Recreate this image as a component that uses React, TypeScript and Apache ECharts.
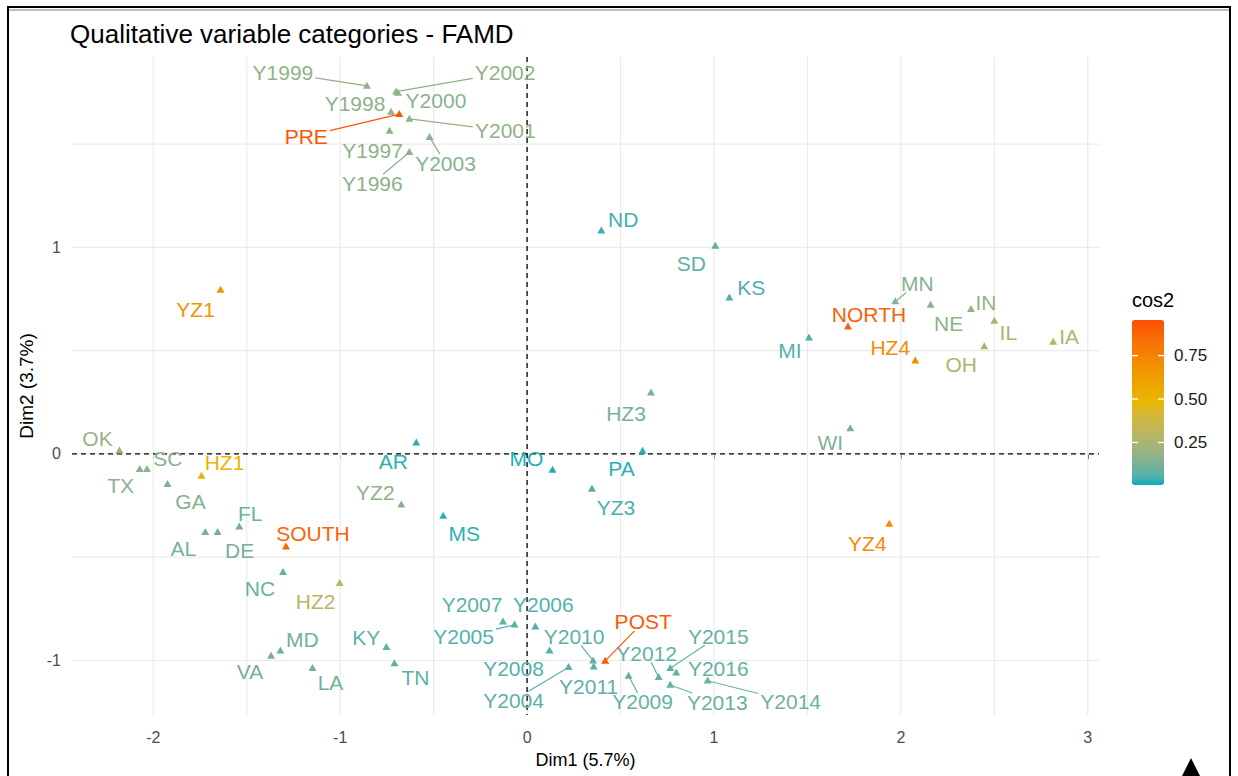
import React, { useEffect, useRef } from "react";
import * as echarts from "echarts";

// ---------------- data ----------------
const categories = [
  "Y1996", "Y1997", "Y1998", "Y1999", "Y2000", "Y2001", "Y2002", "Y2003", "PRE",
  "Y2004", "Y2005", "Y2006", "Y2007", "Y2008", "Y2009", "Y2010", "Y2011", "Y2012",
  "Y2013", "Y2014", "Y2015", "Y2016", "POST",
  "NORTH", "SOUTH",
  "HZ1", "HZ2", "HZ3", "HZ4", "YZ1", "YZ2", "YZ3", "YZ4",
  "AL", "AR", "DE", "FL", "GA", "IA", "IL", "IN", "KS", "KY", "LA", "MD", "MI", "MN",
  "MO", "MS", "NC", "ND", "NE", "OH", "OK", "PA", "SC", "SD", "TN", "TX", "VA", "WI",
];

const dim1 = [
  -0.630, -0.736, -0.728, -0.857, -0.691, -0.630, -0.701, -0.522, -0.684,
  0.222, -0.067, 0.044, -0.129, 0.120, 0.543, 0.353, 0.356, 0.704,
  0.766, 0.966, 0.766, 0.798, 0.418,
  1.717, -1.290,
  -1.742, -1.003, 0.663, 2.077, -1.640, -0.673, 0.347, 1.938,
  -1.722, -0.593, -1.656, -1.540, -1.924, 2.815, 2.500, 2.375, 1.082, -0.753, -1.148, -1.320, 1.508, 1.970,
  0.136, -0.449, -1.306, 0.397, 2.159, 2.446, -2.181, 0.618, -2.034, 1.007, -0.710, -2.073, -1.370, 1.729,
];

const dim2 = [
  1.461, 1.564, 1.656, 1.782, 1.748, 1.622, 1.754, 1.534, 1.645,
  -1.033, -0.827, -0.836, -0.812, -0.953, -1.075, -1.001, -1.030, -1.081,
  -1.119, -1.098, -1.038, -1.059, -1.002,
  0.616, -0.449,
  -0.107, -0.626, 0.297, 0.452, 0.794, -0.246, -0.169, -0.339,
  -0.379, 0.055, -0.379, -0.352, -0.147, 0.542, 0.644, 0.701, 0.757, -0.936, -1.038, -0.953, 0.563, 0.738,
  -0.077, -0.300, -0.573, 1.081, 0.722, 0.520, 0.016, 0.015, -0.074, 1.007, -1.014, -0.074, -0.978, 0.123,
];

const cos2 = [
  0.16, 0.17, 0.17, 0.18, 0.16, 0.18, 0.17, 0.15, 0.93,
  0.07, 0.06, 0.06, 0.07, 0.06, 0.08, 0.07, 0.07, 0.08,
  0.09, 0.10, 0.08, 0.08, 0.92,
  0.90, 0.88,
  0.50, 0.30, 0.12, 0.71, 0.67, 0.17, 0.05, 0.71,
  0.11, 0.03, 0.11, 0.10, 0.14, 0.28, 0.24, 0.19, 0.05, 0.07, 0.10, 0.10, 0.06, 0.15,
  0.02, 0.03, 0.09, 0.04, 0.17, 0.26, 0.19, 0.03, 0.16, 0.07, 0.07, 0.16, 0.11, 0.13,
];

const xTickValues = [-2, -1, 0, 1, 2, 3];
const yTickValues = [-1, 0, 1];
const xGridValues = [-2, -1.5, -1, -0.5, 0, 0.5, 1, 1.5, 2, 2.5, 3];
const yGridValues = [-1, -0.5, 0, 0.5, 1, 1.5];
const zeroLines = [[0, 0]];
const xLimits = [-2.435, 3.06];
const yLimits = [-1.264, 1.922];
const cos2Limits = [0.005, 0.955];
const legendTicks = [0.25, 0.5, 0.75];
const gradientColors = ["#00AFBB", "#E7B800", "#FC4E07"];

// ---------------- label layout (pixel offsets, like ggrepel) ----------------
const labelOffsets: Record<string, [number, number]> = {
  Y1999: [-84, -13], Y2002: [109, -19], Y2000: [38, 8], Y1998: [-36, -8], PRE: [-93, 22],
  Y2001: [96, 12], Y1997: [-17, 20], Y2003: [16, 26], Y1996: [-37, 31],
  MN: [22, -18], NE: [18, 19], IN: [15, -7], IL: [14, 12], IA: [16, -6], OH: [-23, 18],
  NORTH: [21, -12], HZ4: [-25, -13], MI: [-19, 13], WI: [-20, 14],
  ND: [22, -11], SD: [-24, 18], KS: [22, -10], HZ3: [-25, 21], PA: [-21, 18],
  MO: [-26, -11], YZ3: [24, 19], AR: [-23, 19], YZ2: [-26, -12], MS: [21, 18],
  YZ1: [-25, 20], YZ4: [-22, 20],
  OK: [-22, -12], TX: [-19, 16], SC: [21, -11], GA: [23, 17], HZ1: [23, -14],
  FL: [11, -13], AL: [-22, 16], DE: [22, 18], SOUTH: [27, -13], NC: [-23, 16],
  HZ2: [-24, 18], MD: [22, -11], VA: [-21, 16], LA: [18, 14], KY: [-20, -10], TN: [21, 14],
  Y2007: [-31, -17], Y2005: [-51, 12], Y2006: [8, -22], Y2008: [-36, 18], Y2010: [-19, -24],
  Y2011: [-5, 20], Y2004: [-55, 33], POST: [38, -39], Y2012: [-12, -24], Y2015: [48, -32],
  Y2016: [42, -4], Y2009: [14, 26], Y2013: [47, 17], Y2014: [83, 21],
};

const withSegment = new Set([
  "Y1999", "Y2002", "PRE", "Y2001", "Y2003", "Y1996", "MN", "Y2005", "Y2010",
  "Y2004", "POST", "Y2012", "Y2015", "Y2009", "Y2013", "Y2014",
]);

const FONT = '"Liberation Sans", Arial, sans-serif';
const LABEL_SIZE = 21;

// ---------------- colour helpers (Lab interpolation like scales::gradient_n_pal) ----------------
function hexToRgb(h: string): number[] {
  const s = h.replace("#", "");
  return [0, 2, 4].map((i) => parseInt(s.slice(i, i + 2), 16));
}
function toLin(c: number) {
  c /= 255;
  return c <= 0.04045 ? c / 12.92 : Math.pow((c + 0.055) / 1.055, 2.4);
}
function fromLin(c: number) {
  const v = c <= 0.0031308 ? 12.92 * c : 1.055 * Math.pow(c, 1 / 2.4) - 0.055;
  return Math.round(Math.max(0, Math.min(1, v)) * 255);
}
const Xn = 0.95047, Yn = 1, Zn = 1.08883;
const fLab = (t: number) => (t > 0.008856 ? Math.cbrt(t) : 7.787 * t + 16 / 116);
const fInv = (t: number) => (t * t * t > 0.008856 ? t * t * t : (t - 16 / 116) / 7.787);
function rgbToLab(rgb: number[]): number[] {
  const [r, g, b] = rgb.map(toLin);
  const X = 0.4124 * r + 0.3576 * g + 0.1805 * b;
  const Y = 0.2126 * r + 0.7152 * g + 0.0722 * b;
  const Z = 0.0193 * r + 0.1192 * g + 0.9505 * b;
  return [116 * fLab(Y / Yn) - 16, 500 * (fLab(X / Xn) - fLab(Y / Yn)), 200 * (fLab(Y / Yn) - fLab(Z / Zn))];
}
function labToHex(lab: number[]): string {
  const fy = (lab[0] + 16) / 116;
  const fx = fy + lab[1] / 500;
  const fz = fy - lab[2] / 200;
  const X = Xn * fInv(fx), Y = Yn * fInv(fy), Z = Zn * fInv(fz);
  const r = 3.2406 * X - 1.5372 * Y - 0.4986 * Z;
  const g = -0.9689 * X + 1.8758 * Y + 0.0415 * Z;
  const b = 0.0557 * X - 0.204 * Y + 1.057 * Z;
  return "#" + [r, g, b].map((c) => fromLin(c).toString(16).padStart(2, "0")).join("");
}
function gradientStops(colors: string[], n: number): string[] {
  const labs = colors.map((c) => rgbToLab(hexToRgb(c)));
  const out: string[] = [];
  for (let i = 0; i < n; i++) {
    const s = (i / (n - 1)) * (labs.length - 1);
    const seg = Math.min(Math.floor(s), labs.length - 2);
    const t = s - seg;
    const a = labs[seg], b = labs[seg + 1];
    out.push(labToHex([0, 1, 2].map((k) => a[k] + (b[k] - a[k]) * t)));
  }
  return out;
}

let measureCtx: CanvasRenderingContext2D | null = null;
function textWidth(s: string, size: number) {
  if (!measureCtx) {
    const c = document.createElement("canvas");
    measureCtx = c.getContext("2d");
  }
  if (!measureCtx) return s.length * size * 0.55;
  measureCtx.font = `${size}px ${FONT}`;
  return measureCtx.measureText(s).width;
}

// ---------------- component ----------------
export default function App() {
  const ref = useRef<HTMLDivElement>(null);

  useEffect(() => {
    if (!ref.current) return;
    const chart = echarts.init(ref.current, undefined, { renderer: "svg" });

    const barLeft = 1132, barTop = 320, barW = 32, barH = 165;
    const legendY = (v: number) => barTop + ((cos2Limits[1] - v) / (cos2Limits[1] - cos2Limits[0])) * barH;

    const pointRender = (params: any, api: any) => {
      const i = params.dataIndex;
      const p = api.coord([api.value(0), api.value(1)]);
      const color = api.visual("color");
      const name = categories[i];
      const off = labelOffsets[name] || [0, -18];
      const lx = p[0] + off[0];
      const ly = p[1] + off[1];
      const children: any[] = [
        {
          type: "polygon",
          shape: { points: [[p[0], p[1] - 4.2], [p[0] - 4, p[1] + 2.8], [p[0] + 4, p[1] + 2.8]] },
          style: { fill: color },
        },
      ];
      if (withSegment.has(name)) {
        const hw = textWidth(name, LABEL_SIZE) / 2 + 2;
        const hh = 9;
        const dx = lx - p[0], dy = ly - p[1];
        const s = Math.min(dx !== 0 ? hw / Math.abs(dx) : Infinity, dy !== 0 ? hh / Math.abs(dy) : Infinity);
        if (s < 1) {
          children.push({
            type: "line",
            shape: { x1: p[0], y1: p[1], x2: lx - s * dx, y2: ly - s * dy },
            style: { stroke: color, lineWidth: 1.2 },
          });
        }
      }
      children.push({
        type: "text",
        x: lx,
        y: ly,
        style: {
          text: name, fill: color, font: `${LABEL_SIZE}px ${FONT}`,
          align: "center", verticalAlign: "middle", textAlign: "center", textVerticalAlign: "middle",
        },
      });
      return { type: "group", children };
    };

    const graphic: any[] = [
      { type: "rect", shape: { x: 8, y: 7, width: 1222, height: 800 }, style: { fill: "none", stroke: "#000", lineWidth: 2 }, silent: true },
      { type: "line", shape: { x1: 9, y1: 10, x2: 1229, y2: 10 }, style: { stroke: "#bdbdbd", lineWidth: 2 }, silent: true },
      { type: "polygon", shape: { points: [[1182, 776], [1191, 758], [1200, 776]] }, style: { fill: "#000" }, silent: true },
      {
        type: "text", x: barLeft, y: 300,
        style: { text: "cos2", fill: "#000", font: `20px ${FONT}`, align: "left", verticalAlign: "middle", textAlign: "left", textVerticalAlign: "middle" },
      },
    ];
    legendTicks.forEach((v) => {
      const y = legendY(v);
      graphic.push(
        { type: "line", shape: { x1: barLeft, y1: y, x2: barLeft + 6, y2: y }, style: { stroke: "#fff", lineWidth: 1.3 }, z: 100 },
        { type: "line", shape: { x1: barLeft + barW - 6, y1: y, x2: barLeft + barW, y2: y }, style: { stroke: "#fff", lineWidth: 1.3 }, z: 100 },
        {
          type: "text", x: barLeft + barW + 10, y,
          style: { text: v.toFixed(2), fill: "#1a1a1a", font: `17px ${FONT}`, align: "left", verticalAlign: "middle", textAlign: "left", textVerticalAlign: "middle" },
        }
      );
    });

    const option: any = {
      animation: false,
      textStyle: { fontFamily: FONT },
      title: {
        text: "Qualitative variable categories - FAMD",
        left: 70, top: 21, padding: 0,
        textStyle: { fontSize: 26, fontWeight: "normal", color: "#000", fontFamily: FONT },
      },
      grid: { left: 72, right: 139, top: 57, bottom: 61 },
      xAxis: {
        type: "value", min: xLimits[0], max: xLimits[1],
        name: "Dim1 (5.7%)", nameLocation: "middle", nameGap: 36,
        nameTextStyle: { fontSize: 18, color: "#000", fontFamily: FONT },
        axisLine: { show: false },
        splitLine: { show: false },
        axisTick: { show: true, length: 5, lineStyle: { color: "#333" }, customValues: xTickValues },
        axisLabel: { customValues: xTickValues, fontSize: 16, color: "#4d4d4d", margin: 14, fontFamily: FONT },
      },
      yAxis: {
        type: "value", min: yLimits[0], max: yLimits[1],
        name: "Dim2 (3.7%)", nameLocation: "middle", nameGap: 30,
        nameTextStyle: { fontSize: 19, color: "#000", fontFamily: FONT },
        axisLine: { show: false },
        splitLine: { show: false },
        axisTick: { show: true, length: 5, lineStyle: { color: "#333" }, customValues: yTickValues },
        axisLabel: { customValues: yTickValues, fontSize: 16, color: "#4d4d4d", margin: 11, fontFamily: FONT },
      },
      visualMap: {
        type: "continuous",
        min: cos2Limits[0], max: cos2Limits[1],
        dimension: 2, seriesIndex: 3,
        inRange: { color: gradientStops(gradientColors, 25) },
        calculable: false, hoverLink: false,
        orient: "vertical",
        left: barLeft, top: barTop, itemWidth: barW, itemHeight: barH, padding: 0,
        show: true,
      },
      graphic,
      series: [
        {
          type: "custom", name: "vgrid", silent: true, z: 1,
          data: xGridValues.map((v) => [v, 0]),
          encode: { x: 0, y: 1 },
          renderItem: (params: any, api: any) => {
            const cs = params.coordSys;
            const x = api.coord([api.value(0), 0])[0];
            return { type: "line", shape: { x1: x, y1: cs.y, x2: x, y2: cs.y + cs.height }, style: { stroke: "#ebebeb", lineWidth: 1.2 } };
          },
        },
        {
          type: "custom", name: "hgrid", silent: true, z: 1,
          data: yGridValues.map((v) => [0, v]),
          encode: { x: 0, y: 1 },
          renderItem: (params: any, api: any) => {
            const cs = params.coordSys;
            const y = api.coord([0, api.value(1)])[1];
            return { type: "line", shape: { x1: cs.x, y1: y, x2: cs.x + cs.width, y2: y }, style: { stroke: "#ebebeb", lineWidth: 1.2 } };
          },
        },
        {
          type: "custom", name: "zero", silent: true, z: 2,
          data: zeroLines,
          encode: { x: 0, y: 1 },
          renderItem: (params: any, api: any) => {
            const cs = params.coordSys;
            const p = api.coord([api.value(0), api.value(1)]);
            const st = { stroke: "#000", lineWidth: 1.3, lineDash: [5, 4] };
            return {
              type: "group",
              children: [
                { type: "line", shape: { x1: p[0], y1: cs.y, x2: p[0], y2: cs.y + cs.height }, style: st },
                { type: "line", shape: { x1: cs.x, y1: p[1], x2: cs.x + cs.width, y2: p[1] }, style: st },
              ],
            };
          },
        },
        {
          type: "custom", name: "categories", silent: true, z: 10,
          dimensions: ["Dim1", "Dim2", "cos2"],
          data: categories.map((c, i) => ({ name: c, value: [dim1[i], dim2[i], cos2[i]] })),
          encode: { x: 0, y: 1 },
          renderItem: pointRender,
        },
      ],
    };

    chart.setOption(option);
    return () => chart.dispose();
  }, []);

  return <div ref={ref} style={{ position: "fixed", left: 0, top: 0, width: 1238, height: 776, background: "#fff" }} />;
}
